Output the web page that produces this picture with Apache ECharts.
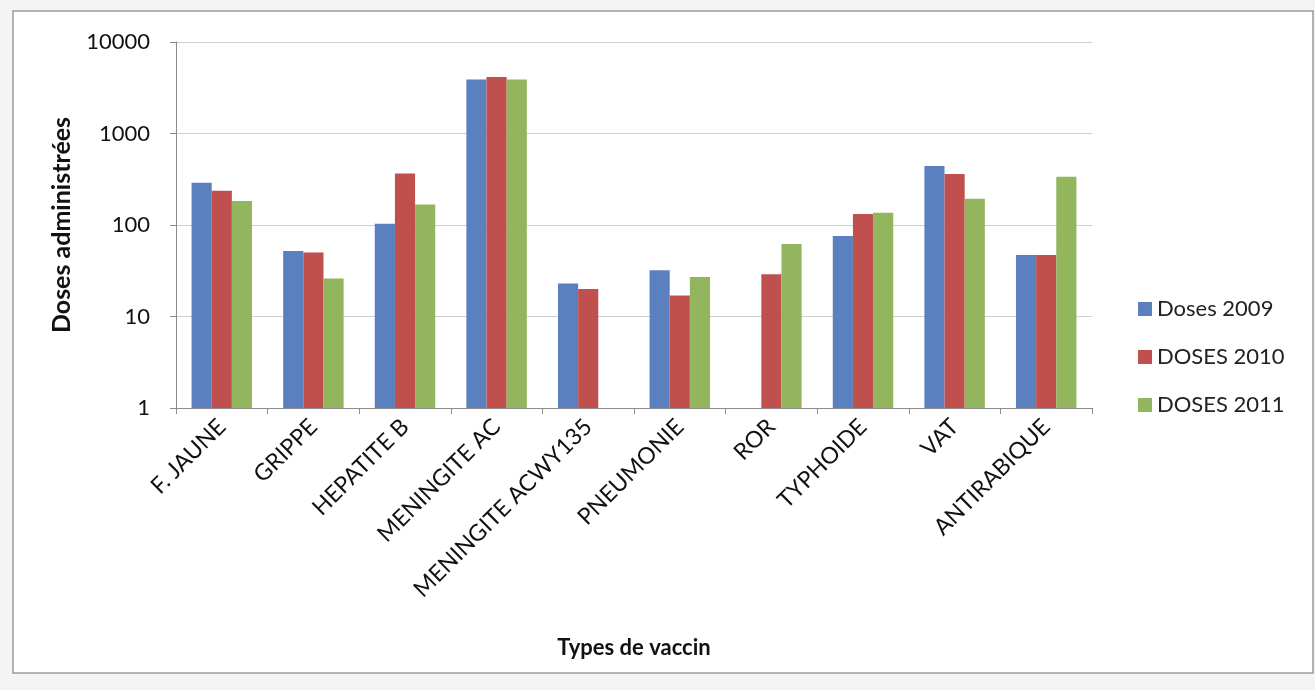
<!DOCTYPE html>
<html>
<head>
<meta charset="utf-8">
<script src="https://cdn.jsdelivr.net/npm/echarts@6/dist/echarts.min.js"></script>
<style>
html,body{margin:0;padding:0;background:#f4f4f4;}
#c{width:1315px;height:690px;}
</style>
</head>
<body>
<div id="c"></div>
<script>
var categories = ['F. JAUNE','GRIPPE','HEPATITE B','MENINGITE AC','MENINGITE ACWY135','PNEUMONIE','ROR','TYPHOIDE','VAT','ANTIRABIQUE'];
var seriesNames = ['Doses 2009','DOSES 2010','DOSES 2011'];
var doses2009 = [289, 52, 103, 3890, 23, 32, null, 76, 440, 47];
var doses2010 = [237, 50, 366, 4150, 20, 17, 29, 132, 360, 47];
var doses2011 = [183, 26, 168, 3890, null, 27, 62, 136, 194, 337];
var yTicks = [1, 10, 100, 1000, 10000];

var colors = ['#5b80bf', '#c0504d', '#93b55d'];
var font = 'Lato, "Liberation Sans", sans-serif';

var chart = echarts.init(document.getElementById('c'), null, {renderer:'canvas'});
var data = [doses2009, doses2010, doses2011];
chart.setOption({
  animation: false,
  backgroundColor: '#f4f4f4',
  color: colors,
  graphic: [{
    type: 'rect', z: -10, silent: true,
    shape: {x: 13, y: 11, width: 1300, height: 662},
    style: {fill: '#ffffff', stroke: '#9a9a9a', lineWidth: 1.5}
  }],
  grid: {left: 176, right: 223, top: 42, bottom: 282, containLabel: false},
  legend: {
    orient: 'vertical', left: 1133, top: 292,
    itemWidth: 14, itemHeight: 14, itemGap: 24,
    icon: 'rect',
    data: seriesNames,
    textStyle: {fontFamily: font, fontSize: 22, color: '#222', lineHeight: 24}
  },
  xAxis: {
    type: 'category', data: categories,
    name: 'Types de vaccin', nameLocation: 'middle', nameGap: 229,
    nameTextStyle: {fontFamily: font, fontSize: 22, fontWeight: 'bold', color: '#111'},
    axisLine: {lineStyle: {color: '#8c8c8c'}},
    axisTick: {show: true, alignWithLabel: false, length: 6, lineStyle: {color: '#8c8c8c'}},
    axisLabel: {rotate: 45, interval: 0, margin: 15, fontFamily: font, fontSize: 23, color: '#111'}
  },
  yAxis: {
    type: 'log', logBase: 10, min: 1, max: 10000,
    name: 'Doses administrées', nameLocation: 'middle', nameGap: 102,
    nameTextStyle: {fontFamily: font, fontSize: 25, fontWeight: 'bold', color: '#111'},
    axisLine: {show: true, lineStyle: {color: '#8c8c8c'}},
    axisTick: {show: true, length: 6, lineStyle: {color: '#8c8c8c'}},
    splitLine: {lineStyle: {color: '#cfcfcf'}},
    minorTick: {show: false},
    axisLabel: {margin: 26, fontFamily: font, fontSize: 22, color: '#111',
      formatter: function(v){ return yTicks.indexOf(Math.round(v)) >= 0 ? String(Math.round(v)) : ''; }}
  },
  series: seriesNames.map(function(n, i){
    return {
      name: n, type: 'bar', data: data[i],
      barGap: '0%', barCategoryGap: '34%'
    };
  })
});
</script>
</body>
</html>
